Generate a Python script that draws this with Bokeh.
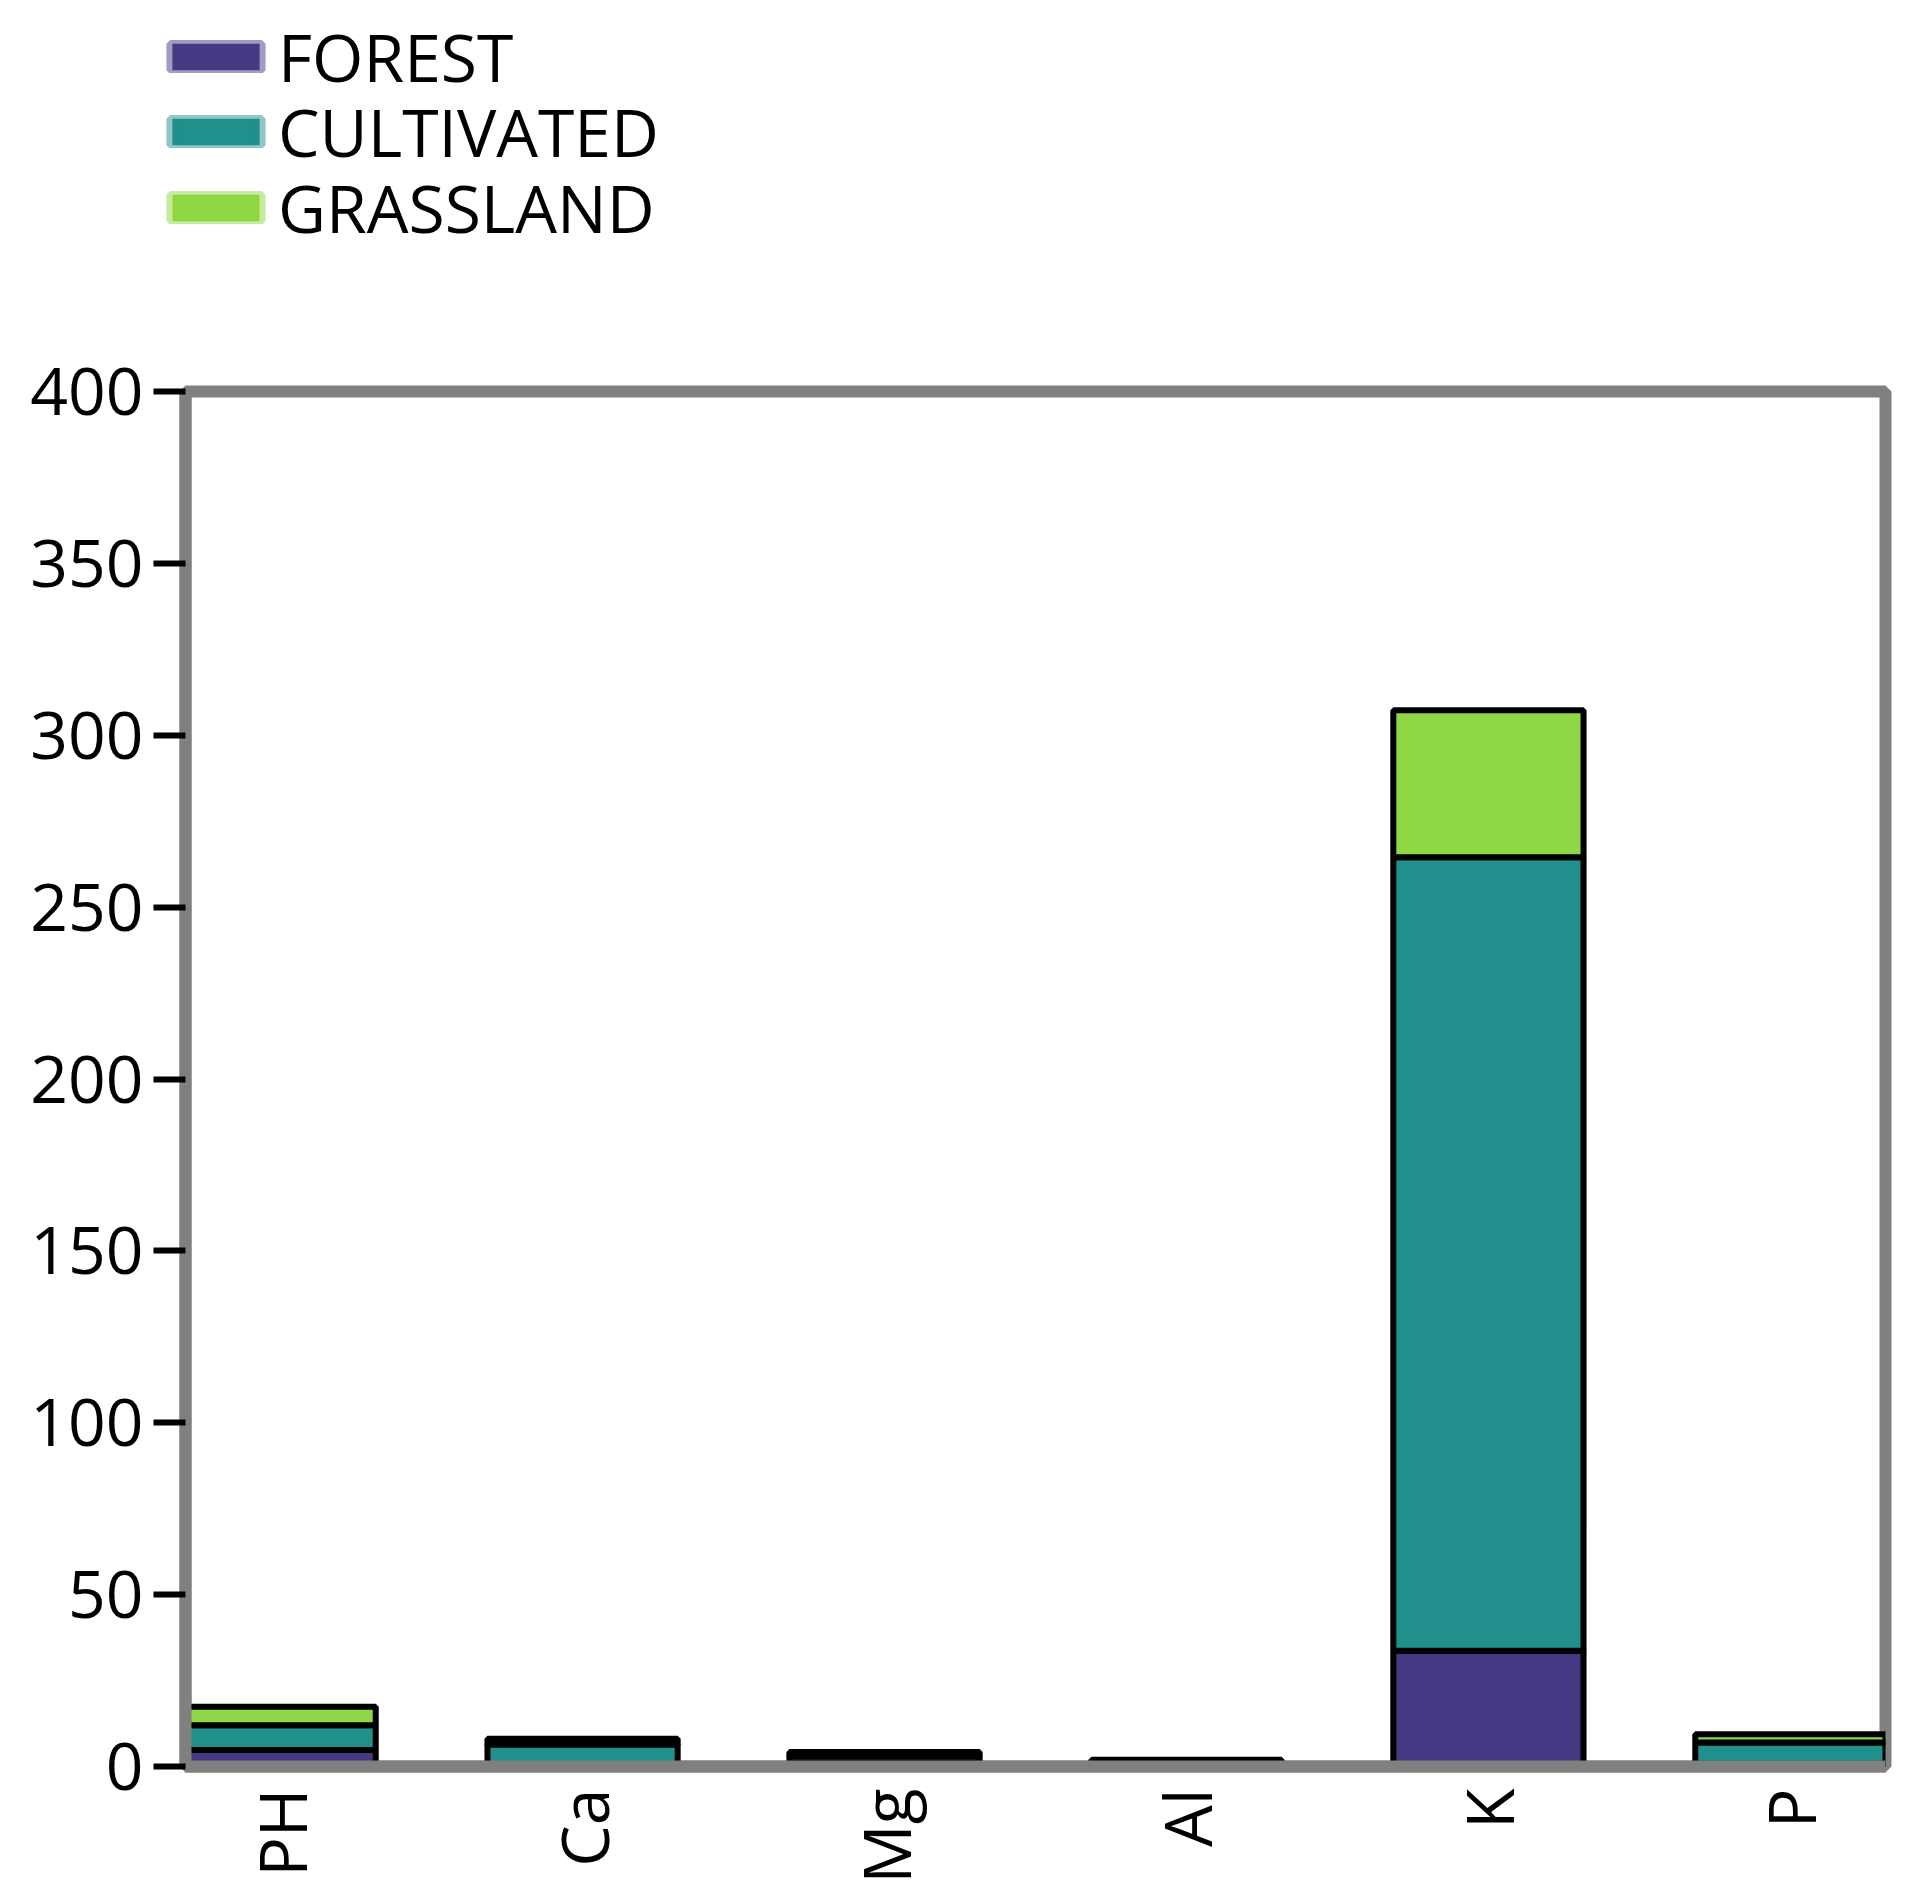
from bokeh.plotting import figure
from bokeh.models import ColumnDataSource, Range1d, FixedTicker, Legend, LegendItem
from bokeh.embed import file_html
from bokeh.resources import INLINE
from math import pi

categories = ["PH", "Ca", "Mg", "Al", "K", "P"]
series_names = ["FOREST", "CULTIVATED", "GRASSLAND"]
forest = [4.8, 0.6, 1.2, 0.5, 33.7, 0.8]
cultivated = [7.2, 5.8, 1.8, 1.0, 230.8, 6.2]
grassland = [5.4, 1.7, 1.2, 0.5, 42.8, 2.4]
y_ticks = [0, 50, 100, 150, 200, 250, 300, 350, 400]
colors = ["#443983", "#21908C", "#8FD744"]

FONT = "Open Sans"
BAR_W = 0.63
TOTAL_W = 1902
LEG_H = 300
MAIN_H = 1586
LEG_ROW_BOTTOMS = [199, 124, 48]   # legend row offsets inside the legend strip

src = ColumnDataSource(data=dict(
    x=list(range(len(categories))),
    forest=forest,
    cultivated=cultivated,
    grassland=grassland,
))

# ---------- legend strip (separate root, frame = whole strip) ----------
lf = figure(width=TOTAL_W, height=LEG_H, x_range=Range1d(0, 1), y_range=Range1d(0, 1),
            output_backend="svg", toolbar_location=None,
            x_axis_location=None, y_axis_location=None,
            min_border_left=0, min_border_right=0, min_border_top=0, min_border_bottom=0)
lf.outline_line_color = None
lf.xgrid.grid_line_color = None
lf.ygrid.grid_line_color = None
for name, c, vy in zip(series_names, colors, LEG_ROW_BOTTOMS):
    # degenerate (zero-size) swatch renderer; only its legend glyph is drawn
    r = lf.vbar(x=[0.5], bottom=[0.5], top=[0.5], width=0, fill_color=c, line_color=c,
                line_alpha=0.5, line_width=12)
    lg = Legend(items=[LegendItem(label=name, renderers=[r])], location=(161, vy),
                orientation="vertical",
                label_text_font=FONT, label_text_font_size="66px",
                label_text_color="black", label_standoff=8,
                glyph_width=109, glyph_height=33, spacing=0,
                padding=0, margin=0, border_line_alpha=0,
                background_fill_alpha=0)
    lf.add_layout(lg, "center")

# ---------- main chart ----------
p = figure(width=TOTAL_W, height=MAIN_H,
           x_range=Range1d(-BAR_W / 2, len(categories) - 1 + BAR_W / 2),
           y_range=Range1d(0, 400),
           output_backend="svg", toolbar_location=None,
           min_border_left=185, min_border_right=17,
           min_border_top=391 - LEG_H, min_border_bottom=119)

p.vbar_stack(["forest", "cultivated", "grassland"], x="x", width=BAR_W,
             fill_color=colors, line_color="black", line_width=6, source=src)

p.xgrid.grid_line_color = None
p.ygrid.grid_line_color = None
p.outline_line_color = "#808080"
p.outline_line_width = 12
p.outline_line_alpha = 1

p.yaxis.ticker = FixedTicker(ticks=y_ticks)
p.yaxis.axis_line_color = "#808080"
p.yaxis.axis_line_width = 12
p.yaxis.major_tick_out = 32
p.yaxis.major_tick_in = 0
p.yaxis.major_tick_line_color = "black"
p.yaxis.major_tick_line_width = 6
p.yaxis.minor_tick_line_color = None
p.yaxis.major_label_standoff = 10
p.yaxis.major_label_text_font = FONT
p.yaxis.major_label_text_font_size = "66px"
p.yaxis.major_label_text_color = "black"

p.xaxis.ticker = FixedTicker(ticks=list(range(len(categories))))
p.xaxis.major_label_overrides = {i: c for i, c in enumerate(categories)}
p.xaxis.major_label_orientation = pi / 2
p.xaxis.axis_line_color = "#808080"
p.xaxis.axis_line_width = 12
p.xaxis.major_tick_out = 0
p.xaxis.major_tick_in = 0
p.xaxis.minor_tick_line_color = None
p.xaxis.major_label_standoff = 22
p.xaxis.major_label_text_font = FONT
p.xaxis.major_label_text_font_size = "66px"
p.xaxis.major_label_text_color = "black"

open("out.html", "w").write(file_html([lf, p], INLINE))
